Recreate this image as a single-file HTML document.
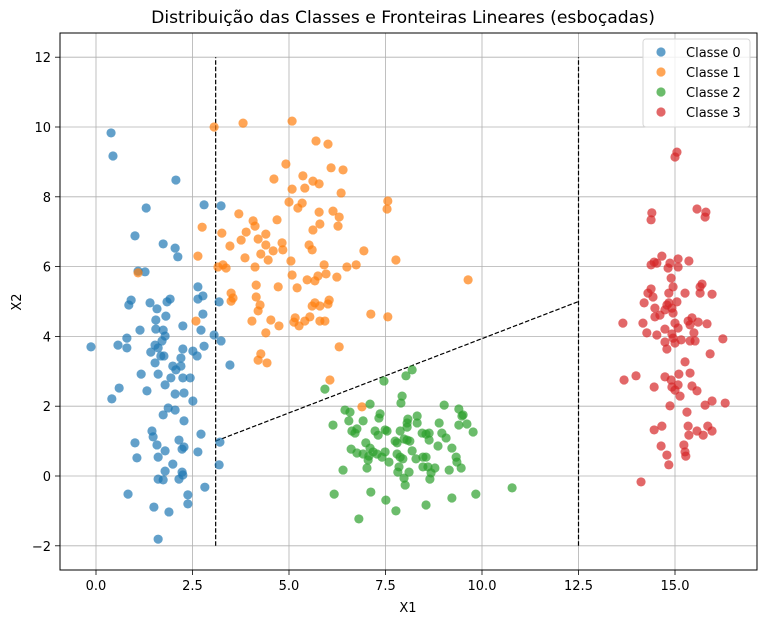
<!DOCTYPE html>
<html><head><meta charset="utf-8">
<style>
html,body{margin:0;padding:0;background:#fff;}
svg{display:block;font-family:"DejaVu Sans","Liberation Sans",sans-serif;}
</style></head>
<body>
<svg id="chart" width="767" height="624" viewBox="0 0 767 624" xmlns="http://www.w3.org/2000/svg">
<rect x="0" y="0" width="767" height="624" fill="#fff"/>
<text x="403" y="23" text-anchor="middle" font-size="17.2" fill="#000">Distribuição das Classes e Fronteiras Lineares (esboçadas)</text>
<g id="grid"></g>
<g id="lines"></g>
<g id="points"></g>
<rect x="60" y="33" width="697" height="537" fill="none" stroke="#000" stroke-width="1"/>
<g id="ticks"></g>
<text x="408" y="612" text-anchor="middle" font-size="13">X1</text>
<text x="21" y="302" text-anchor="middle" font-size="13" transform="rotate(-90 21 302)">X2</text>
<g id="legend"></g>
</svg>
<script>
const xTicks = [0, 2.5, 5, 7.5, 10, 12.5, 15];
const xTickLabels = ["0.0", "2.5", "5.0", "7.5", "10.0", "12.5", "15.0"];
const yTicks = [-2, 0, 2, 4, 6, 8, 10, 12];
const yTickLabels = ["−2", "0", "2", "4", "6", "8", "10", "12"];
const classNames = ["Classe 0", "Classe 1", "Classe 2", "Classe 3"];
const classColors = ["#1f77b4", "#ff7f0e", "#2ca02c", "#d62728"];

const class0 = [[0.39,9.83],[0.44,9.17],[2.07,8.48],[2.80,7.77],[3.24,7.74],[1.30,7.68],[1.01,6.88],[1.74,6.65],[2.05,6.53],[2.12,6.28],[1.09,5.87],[1.27,5.85],[2.64,5.42],[2.77,5.16],[2.64,5.07],[3.19,4.99],[0.91,5.04],[0.85,4.90],[1.40,4.96],[1.92,5.07],[1.84,4.99],[1.58,4.79],[1.81,4.58],[2.77,4.64],[1.55,4.47],[2.25,4.30],[1.14,4.18],[1.55,4.21],[1.74,4.18],[2.72,4.18],[1.79,4.01],[3.06,4.04],[3.24,3.87],[0.80,3.95],[-0.13,3.70],[0.57,3.75],[0.80,3.67],[1.53,3.75],[1.61,3.67],[1.71,3.87],[1.42,3.55],[1.68,3.44],[1.76,3.44],[2.25,3.64],[2.51,3.58],[2.62,3.44],[2.80,3.72],[2.20,3.38],[1.53,3.24],[1.99,3.15],[2.20,3.15],[2.07,3.04],[3.47,3.18],[1.17,2.92],[1.61,2.92],[1.94,2.81],[2.25,2.81],[2.44,2.81],[1.79,2.61],[0.60,2.52],[0.41,2.21],[1.32,2.44],[2.05,2.35],[2.28,2.38],[2.51,2.15],[1.87,1.95],[2.05,1.89],[1.74,1.75],[2.28,1.58],[1.45,1.29],[1.48,1.12],[2.72,1.20],[1.01,0.95],[1.58,0.89],[2.15,1.03],[2.28,0.83],[2.23,0.77],[1.79,0.72],[2.64,0.69],[3.21,0.97],[1.06,0.52],[1.61,0.54],[1.99,0.34],[3.19,0.32],[1.79,0.14],[2.23,0.11],[2.25,0.03],[1.61,-0.09],[1.74,-0.11],[2.15,-0.09],[2.82,-0.32],[0.83,-0.52],[2.38,-0.54],[2.38,-0.80],[1.50,-0.89],[1.89,-1.03],[1.61,-1.81]];

const class1 = [[3.06,10.0],[3.81,10.11],[5.08,10.17],[5.70,9.60],[6.01,9.51],[4.92,8.94],[6.09,8.83],[6.40,8.77],[4.61,8.51],[5.36,8.60],[5.62,8.45],[5.78,8.37],[5.08,8.22],[5.41,8.25],[6.35,8.11],[7.56,7.88],[7.54,7.65],[5.00,7.85],[5.23,7.68],[5.34,7.82],[5.78,7.56],[6.14,7.59],[6.30,7.42],[6.27,7.16],[5.80,7.22],[5.62,7.05],[4.69,7.34],[3.70,7.51],[4.07,7.31],[4.12,7.16],[2.75,7.13],[3.26,6.96],[3.89,6.99],[4.40,6.93],[3.76,6.76],[4.20,6.79],[3.47,6.59],[4.40,6.62],[4.82,6.68],[5.52,6.62],[4.59,6.45],[4.84,6.48],[5.60,6.48],[4.27,6.36],[6.94,6.45],[2.64,6.30],[3.86,6.25],[4.46,6.19],[5.05,6.16],[7.77,6.19],[3.16,5.99],[3.29,6.05],[3.37,5.96],[4.12,5.99],[5.91,6.05],[6.50,5.99],[6.74,6.05],[5.08,5.76],[5.75,5.73],[5.96,5.79],[5.47,5.62],[5.67,5.59],[6.24,5.70],[9.64,5.62],[4.15,5.47],[4.72,5.42],[5.21,5.39],[3.50,5.24],[3.55,5.10],[3.50,5.01],[4.15,5.13],[4.25,4.90],[4.20,4.73],[5.67,4.96],[5.60,4.87],[5.80,4.87],[6.04,5.04],[6.01,4.93],[7.12,4.64],[7.56,4.56],[2.59,4.44],[4.04,4.44],[4.53,4.47],[5.16,4.53],[5.13,4.41],[5.26,4.30],[5.41,4.44],[5.54,4.56],[5.80,4.44],[5.93,4.44],[4.74,4.30],[4.40,4.10],[6.30,3.70],[4.27,3.50],[4.20,3.32],[4.43,3.24],[6.06,2.75],[6.89,1.98],[1.09,5.82]];

const class2 = [[5.93,2.49],[7.46,2.72],[8.03,2.87],[8.19,3.04],[7.93,2.29],[7.90,2.09],[7.10,2.06],[6.45,1.89],[6.58,1.83],[9.02,2.03],[9.40,1.92],[9.51,1.75],[9.48,1.72],[6.14,1.46],[6.55,1.58],[6.92,1.58],[7.36,1.78],[7.33,1.66],[8.08,1.63],[8.32,1.72],[8.32,1.52],[8.06,1.52],[8.06,1.40],[8.89,1.52],[9.40,1.46],[9.61,1.49],[9.77,1.26],[6.63,1.29],[6.76,1.35],[6.71,1.23],[7.23,1.29],[7.31,1.17],[7.49,1.32],[7.54,1.29],[7.88,1.29],[8.45,1.23],[8.55,1.20],[8.63,1.23],[8.96,1.23],[9.07,1.09],[8.63,1.03],[7.75,1.00],[7.80,0.95],[7.98,1.06],[8.06,1.03],[8.13,1.00],[6.99,0.95],[8.86,0.86],[9.22,0.80],[6.61,0.77],[6.76,0.66],[6.92,0.63],[7.10,0.80],[7.18,0.69],[7.07,0.57],[7.28,0.63],[7.41,0.54],[7.49,0.69],[7.05,0.46],[7.59,0.40],[7.80,0.63],[7.88,0.54],[7.95,0.49],[8.19,0.72],[8.29,0.49],[8.47,0.54],[8.55,0.54],[9.33,0.54],[9.35,0.40],[8.47,0.26],[8.60,0.26],[8.78,0.23],[9.15,0.17],[9.46,0.23],[7.85,0.26],[7.82,0.11],[8.11,0.11],[8.68,0.09],[7.02,0.23],[6.40,0.17],[7.98,-0.06],[8.65,-0.09],[8.01,-0.26],[6.17,-0.52],[7.12,-0.46],[7.51,-0.69],[7.77,-1.00],[8.55,-0.83],[9.22,-0.63],[9.84,-0.52],[10.78,-0.34],[6.81,-1.23]];

const class3 = [[15.05,9.28],[15.0,9.14],[14.40,7.54],[14.38,7.34],[15.57,7.65],[15.80,7.56],[15.78,7.42],[14.66,6.30],[14.46,6.13],[14.38,6.05],[14.53,6.10],[14.87,6.10],[15.08,6.22],[15.36,6.16],[14.82,5.96],[15.08,5.99],[14.90,5.67],[14.38,5.36],[14.30,5.24],[14.43,5.13],[14.95,5.42],[14.84,5.24],[15.26,5.24],[15.70,5.50],[15.65,5.42],[15.65,5.24],[15.96,5.21],[14.20,4.96],[14.48,4.81],[14.79,4.90],[14.84,4.96],[15.05,4.99],[14.92,4.81],[14.95,4.67],[14.74,4.76],[14.61,4.61],[14.48,4.56],[13.65,4.38],[14.17,4.38],[15.0,4.38],[15.34,4.44],[15.44,4.53],[15.60,4.41],[15.83,4.36],[15.39,4.33],[14.74,4.21],[15.08,4.24],[14.27,4.10],[14.53,4.04],[14.92,4.07],[15.49,4.10],[14.74,3.84],[14.79,3.64],[14.95,3.95],[15.0,3.81],[15.16,3.90],[15.39,3.87],[15.52,3.87],[16.24,3.93],[15.91,3.50],[15.26,3.27],[13.68,2.75],[13.99,2.87],[14.46,2.55],[14.74,2.84],[14.90,2.75],[14.92,2.55],[15.10,2.92],[15.39,2.95],[15.08,2.61],[15.0,2.46],[15.44,2.58],[15.57,2.44],[15.13,2.29],[14.87,2.01],[15.31,1.83],[15.78,2.03],[15.96,2.15],[16.30,2.09],[14.46,1.32],[14.66,1.43],[15.34,1.43],[15.36,1.17],[15.57,1.29],[15.73,1.17],[15.85,1.43],[15.96,1.29],[14.64,0.86],[14.79,0.60],[14.84,0.32],[15.23,0.89],[15.26,0.69],[15.28,0.57],[14.12,-0.17]];

const boundaryVert1 = [[3.1,-2],[3.1,12]];
const boundaryVert2 = [[12.5,-2],[12.5,12]];
const boundaryDiag = [[3.1,1],[12.5,5]];

const NS = "http://www.w3.org/2000/svg";
const X0 = 96, XS = 38.6, Y0 = 476, YS = 34.9;
function sx(v){ return X0 + v * XS; }
function sy(v){ return Y0 - v * YS; }
function mk(tag, attrs, parent){
  const e = document.createElementNS(NS, tag);
  for (const k in attrs) e.setAttribute(k, attrs[k]);
  parent.appendChild(e);
  return e;
}
const grid = document.getElementById("grid");
const ticks = document.getElementById("ticks");
xTicks.forEach((t, i) => {
  const g = mk("line", {x1: sx(t), x2: sx(t), y1: 33, y2: 570, stroke: "#b0b0b0", "stroke-width": 0.8}, grid);
  
  
  const tk = mk("line", {x1: sx(t), x2: sx(t), y1: 570, y2: 575, stroke: "#000", "stroke-width": 0.8}, ticks);
  
  
  const tl = mk("text", {x: sx(t), y: 590, "text-anchor": "middle", "font-size": 13}, ticks);
  tl.textContent = xTickLabels[i];
  
  
});
yTicks.forEach((t, i) => {
  const g = mk("line", {x1: 60, x2: 757, y1: sy(t), y2: sy(t), stroke: "#b0b0b0", "stroke-width": 0.8}, grid);
  
  
  const tk = mk("line", {x1: 55, x2: 60, y1: sy(t), y2: sy(t), stroke: "#000", "stroke-width": 0.8}, ticks);
  
  
  const tl = mk("text", {x: 51, y: sy(t) + 5, "text-anchor": "end", "font-size": 13}, ticks);
  tl.textContent = yTickLabels[i];
  
  
});
const linesG = document.getElementById("lines");
[[boundaryVert1, 'boundary-line-vertical-1'], [boundaryVert2, 'boundary-line-vertical-2'], [boundaryDiag, 'boundary-line-diagonal']].forEach(([seg, nm]) => {
  const l = mk("line", {x1: sx(seg[0][0]), y1: sy(seg[0][1]), x2: sx(seg[1][0]), y2: sy(seg[1][1]), stroke: "#000", "stroke-width": 1.2, "stroke-dasharray": "4.5,2"}, linesG);
  
  
});
const pts = document.getElementById("points");
[class0, class1, class2, class3].forEach((arr, ci) => {
  const g = mk("g", {}, pts);
  
  
  arr.forEach(p => {
    const c = mk("circle", {cx: sx(p[0]), cy: sy(p[1]), r: 4.6, fill: classColors[ci], "fill-opacity": 0.7}, g);
    
    
  });
});
const lg = document.getElementById("legend");


mk("rect", {x: 643, y: 39, width: 107, height: 88, rx: 3, fill: "#fff", "fill-opacity": 0.8, stroke: "#d6d6d6", "stroke-width": 1}, lg);
classNames.forEach((n, i) => {
  const e = mk("g", {}, lg);
  
  
  mk("circle", {cx: 661, cy: 52 + i * 20, r: 4.6, fill: classColors[i], "fill-opacity": 0.7}, e);
  const t = mk("text", {x: 686, y: 57 + i * 20, "font-size": 13}, e);
  t.textContent = n;
});
</script>
</body></html>
